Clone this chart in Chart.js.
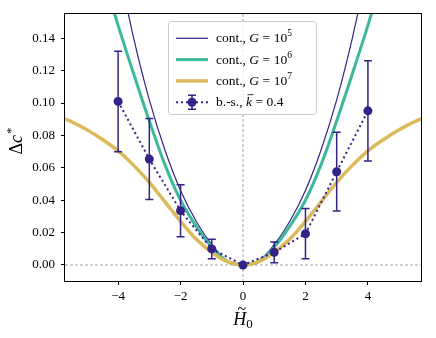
<!DOCTYPE html>
<html>
<head>
<meta charset="utf-8">
<script src="https://cdn.jsdelivr.net/npm/chart.js@4"></script>
<style>
  html, body { margin: 0; padding: 0; background: #fff; }
</style>
</head>
<body>
<canvas id="chart" width="436" height="338"></canvas>
<script>
// curve G = 10^5 (thin)
const xG5 = [-4, -3.5, -3, -2.5, -2, -1.5, -1, -0.5, 0, 0.5, 1, 1.5, 2, 2.5, 3, 3.5, 4];
const yG5 = [0.185, 0.140, 0.102, 0.071, 0.046, 0.027, 0.0125, 0.0025, 0, 0.0025, 0.0125, 0.027, 0.046, 0.071, 0.102, 0.140, 0.185];

// curve G = 10^6
const xG6 = [-4.5, -4, -3.5, -3, -2.5, -2, -1.5, -1, -0.5, 0, 0.5, 1, 1.5, 2, 2.5, 3, 3.5, 4, 4.5];
const yG6 = [0.18, 0.148, 0.118, 0.089, 0.062, 0.040, 0.024, 0.011, 0.0022, 0, 0.0022, 0.011, 0.024, 0.040, 0.062, 0.089, 0.118, 0.148, 0.18];

// curve G = 10^7
const xG7 = [-5.75, -5.5, -5, -4.5, -4, -3.5, -3, -2.5, -2, -1.5, -1, -0.5, 0, 0.5, 1, 1.5, 2, 2.5, 3, 3.5, 4, 4.5, 5, 5.5, 5.75];
const yG7 = [0.0905, 0.0885, 0.0835, 0.0775, 0.0705, 0.0615, 0.051, 0.039, 0.027, 0.016, 0.0078, 0.002, 0, 0.002, 0.0078, 0.016, 0.027, 0.039, 0.051, 0.0615, 0.0705, 0.0775, 0.0835, 0.0885, 0.0905];

// b.-s. points with error bars
const xBs = [-4, -3, -2, -1, 0, 1, 2, 3, 4];
const yBs = [0.101, 0.0654, 0.0335, 0.0099, 0, 0.0078, 0.0193, 0.0576, 0.0952];
const errBs = [0.031, 0.025, 0.016, 0.006, 0.0005, 0.0064, 0.0155, 0.0243, 0.031];

const xTicks = [-4, -2, 0, 2, 4];
const yTicks = [0, 0.02, 0.04, 0.06, 0.08, 0.10, 0.12, 0.14];

const legendLabels = ['5', '6', '7'];   // exponents of G
const kBar = '0.4';

const INDIGO = '#332288';
const TEAL = '#3cb89a';
const SAND = '#dcb95a';
const serif = "'Liberation Serif', 'DejaVu Serif', serif";

function pts(xs, ys) {
    return xs.map((x, i) => ({ x: x, y: ys[i] }));
}

function fmtX(v) {
    return v < 0 ? '\u2212' + Math.abs(v) : String(v);
}

// gray dashed lines at x=0 and y=0
const zeroLines = {
    id: 'zeroLines',
    beforeDatasetsDraw(chart) {
        const { ctx, chartArea: a, scales: { x, y } } = chart;
        const px = x.getPixelForValue(0);
        const py = y.getPixelForValue(0);
        ctx.save();
        ctx.strokeStyle = '#8c8c8c';
        ctx.lineWidth = 0.8;
        ctx.setLineDash([3, 2]);
        ctx.beginPath();
        ctx.moveTo(px, a.top);
        ctx.lineTo(px, a.bottom);
        ctx.moveTo(a.left, py);
        ctx.lineTo(a.right, py);
        ctx.stroke();
        ctx.restore();
    }
};

// error bars drawn just before the b.-s. dataset
const errorBars = {
    id: 'errorBars',
    beforeDatasetDraw(chart, args) {
        if (args.index !== 0) return;
        const { ctx, scales: { x, y } } = chart;
        ctx.save();
        ctx.strokeStyle = INDIGO;
        ctx.lineWidth = 1.5;
        xBs.forEach((xv, i) => {
            const px = x.getPixelForValue(xv);
            const top = y.getPixelForValue(yBs[i] + errBs[i]);
            const bot = y.getPixelForValue(yBs[i] - errBs[i]);
            ctx.beginPath();
            ctx.moveTo(px, top);
            ctx.lineTo(px, bot);
            ctx.moveTo(px - 4, top);
            ctx.lineTo(px + 4, top);
            ctx.moveTo(px - 4, bot);
            ctx.lineTo(px + 4, bot);
            ctx.stroke();
        });
        ctx.restore();
    }
};

// draw a run of text pieces {t, font, dy}, returns end x
function drawPieces(ctx, x, y, pieces) {
    pieces.forEach(p => {
        ctx.font = p.font;
        ctx.fillText(p.t, x + (p.dx || 0), y + (p.dy || 0));
        x += ctx.measureText(p.t).width + (p.dx || 0) + (p.after || 0);
    });
    return x;
}

function piecesWidth(ctx, pieces) {
    let w = 0;
    pieces.forEach(p => {
        ctx.font = p.font;
        w += ctx.measureText(p.t).width + (p.dx || 0) + (p.after || 0);
    });
    return w;
}

const frameAndLabels = {
    id: 'frameAndLabels',
    afterDraw(chart) {
        const { ctx, chartArea: a } = chart;
        ctx.save();
        // frame
        ctx.strokeStyle = '#000';
        ctx.lineWidth = 1;
        ctx.strokeRect(a.left - 0.5, a.top - 0.5, a.right - a.left + 1, a.bottom - a.top + 1);

        ctx.fillStyle = '#000';
        ctx.textBaseline = 'alphabetic';
        ctx.textAlign = 'left';

        // x label: H~ with subscript 0
        const xl = [
            { t: 'H', font: 'italic 18px ' + serif },
            { t: '0', font: '13px ' + serif, dy: 3 }
        ];
        const xw = piecesWidth(ctx, xl);
        const xc = (a.left + a.right) / 2;
        const x0 = xc - xw / 2;
        drawPieces(ctx, x0, 325, xl);
        ctx.font = 'italic 16px ' + serif;
        ctx.fillText('~', x0 + 4, 314);

        // y label: Delta c*
        const yl = [
            { t: '\u0394', font: '18px ' + serif },
            { t: 'c', font: 'italic 18px ' + serif, after: 1 },
            { t: '*', font: '13px ' + serif, dy: -7 }
        ];
        const yw = piecesWidth(ctx, yl);
        ctx.translate(22, 141);
        ctx.rotate(-Math.PI / 2);
        drawPieces(ctx, -yw / 2, 0, yl);
        ctx.restore();
    }
};

const legendBox = {
    id: 'legendBox',
    afterDraw(chart) {
        const { ctx } = chart;
        const bx = 168.5, by = 21.5, bw = 148, bh = 93;
        const rows = [38.3, 59.6, 80.9, 102.2];
        const s0 = 176, s1 = 208, tx = 216;
        const font = '13.5px ' + serif;
        const ifont = 'italic 13.5px ' + serif;
        const sfont = '9.5px ' + serif;

        ctx.save();
        ctx.beginPath();
        ctx.roundRect(bx, by, bw, bh, 3);
        ctx.fillStyle = 'rgba(255,255,255,0.8)';
        ctx.fill();
        ctx.strokeStyle = '#cccccc';
        ctx.lineWidth = 1;
        ctx.stroke();

        const styles = [
            { color: INDIGO, width: 1.2 },
            { color: TEAL, width: 3 },
            { color: SAND, width: 3.5 }
        ];
        ctx.textBaseline = 'alphabetic';
        styles.forEach((st, i) => {
            ctx.strokeStyle = st.color;
            ctx.lineWidth = st.width;
            ctx.beginPath();
            ctx.moveTo(s0, rows[i]);
            ctx.lineTo(s1, rows[i]);
            ctx.stroke();
            ctx.fillStyle = '#000';
            drawPieces(ctx, tx, rows[i] + 4, [
                { t: 'cont., ', font: font },
                { t: 'G', font: ifont, after: 3.5 },
                { t: '=', font: font, after: 3.5 },
                { t: '10', font: font },
                { t: legendLabels[i], font: sfont, dy: -6 }
            ]);
        });

        // b.-s. sample: dotted line, marker and error bar
        const r = rows[3], mid = (s0 + s1) / 2;
        ctx.strokeStyle = INDIGO;
        ctx.lineWidth = 2;
        ctx.setLineDash([2, 3]);
        ctx.beginPath();
        ctx.moveTo(s0, r);
        ctx.lineTo(s1, r);
        ctx.stroke();
        ctx.setLineDash([]);
        ctx.lineWidth = 1.5;
        ctx.beginPath();
        ctx.moveTo(mid, r - 7);
        ctx.lineTo(mid, r + 7);
        ctx.moveTo(mid - 4, r - 7);
        ctx.lineTo(mid + 4, r - 7);
        ctx.moveTo(mid - 4, r + 7);
        ctx.lineTo(mid + 4, r + 7);
        ctx.stroke();
        ctx.fillStyle = INDIGO;
        ctx.beginPath();
        ctx.arc(mid, r, 4.5, 0, Math.PI * 2);
        ctx.fill();

        ctx.fillStyle = '#000';
        const kx = drawPieces(ctx, tx, r + 4, [{ t: 'b.-s., ', font: font }]);
        ctx.font = ifont;
        const kw = ctx.measureText('k').width;
        ctx.fillText('k', kx, r + 4);
        // macron over k
        ctx.strokeStyle = '#000';
        ctx.lineWidth = 0.8;
        ctx.beginPath();
        ctx.moveTo(kx + 1.5, r - 7.5);
        ctx.lineTo(kx + kw + 1.5, r - 7.5);
        ctx.stroke();
        drawPieces(ctx, kx + kw + 3.5, r + 4, [
            { t: '=', font: font, after: 3.5 },
            { t: kBar, font: font }
        ]);
        ctx.restore();
    }
};

const tickFont = { family: serif, size: 13 };

new Chart(document.getElementById('chart'), {
    type: 'line',
    data: {
        datasets: [
            {
                label: 'b.-s.',
                data: pts(xBs, yBs),
                borderColor: INDIGO,
                borderWidth: 2,
                borderDash: [2, 3],
                pointRadius: 4.5,
                pointBackgroundColor: INDIGO,
                pointBorderWidth: 0,
                order: 0,
                clip: 0
            },
            {
                label: 'G7',
                data: pts(xG7, yG7),
                borderColor: SAND,
                borderWidth: 3.5,
                pointRadius: 0,
                cubicInterpolationMode: 'monotone',
                order: 1,
                clip: 0
            },
            {
                label: 'G6',
                data: pts(xG6, yG6),
                borderColor: TEAL,
                borderWidth: 3,
                pointRadius: 0,
                cubicInterpolationMode: 'monotone',
                order: 2,
                clip: 0
            },
            {
                label: 'G5',
                data: pts(xG5, yG5),
                borderColor: INDIGO,
                borderWidth: 1.2,
                pointRadius: 0,
                cubicInterpolationMode: 'monotone',
                order: 3,
                clip: 0
            }
        ]
    },
    options: {
        responsive: false,
        animation: false,
        devicePixelRatio: 1,
        layout: { padding: { left: 0, right: 15, top: 14, bottom: 0 } },
        plugins: {
            legend: { display: false },
            tooltip: { enabled: false }
        },
        scales: {
            x: {
                type: 'linear',
                min: -5.7,
                max: 5.7,
                afterFit: s => { s.height = 57; },
                afterBuildTicks: s => { s.ticks = xTicks.map(v => ({ value: v })); },
                ticks: { callback: v => fmtX(v), font: tickFont, color: '#000', padding: 4, maxRotation: 0 },
                grid: { drawOnChartArea: false, tickLength: 4, tickWidth: 1, tickColor: '#000' },
                border: { display: false }
            },
            y: {
                type: 'linear',
                min: -0.0099,
                max: 0.155,
                afterFit: s => { s.width = 65; },
                afterBuildTicks: s => { s.ticks = yTicks.map(v => ({ value: v })); },
                ticks: { callback: v => v.toFixed(2), font: tickFont, color: '#000', padding: 6 },
                grid: { drawOnChartArea: false, tickLength: 4, tickWidth: 1, tickColor: '#000' },
                border: { display: false }
            }
        }
    },
    plugins: [zeroLines, errorBars, frameAndLabels, legendBox]
});
</script>
</body>
</html>
